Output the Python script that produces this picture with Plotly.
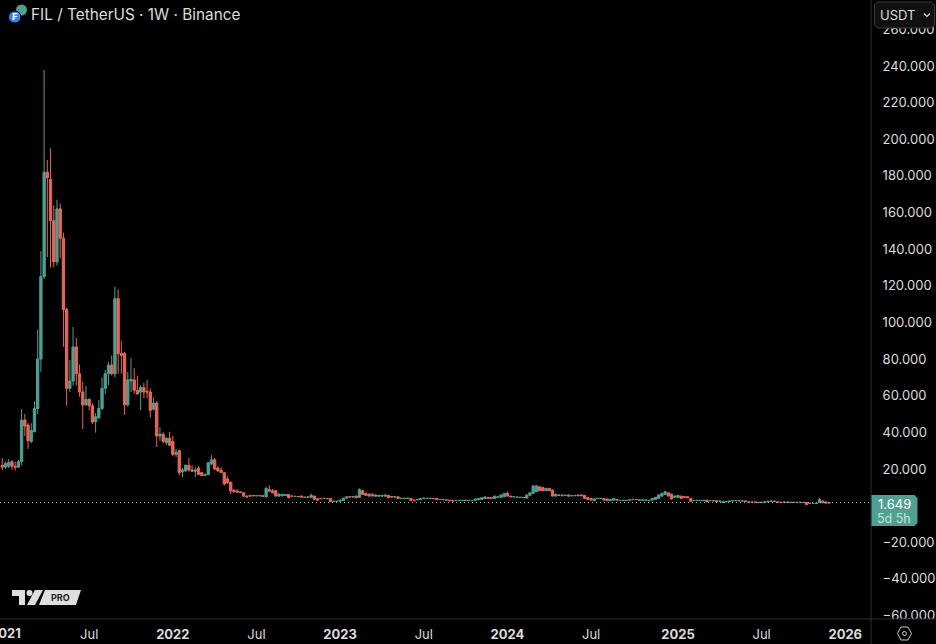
"""
FIL / TetherUS weekly candles, dark TradingView look.
"""

import pandas as pd
import plotly.graph_objects as go


# ============================================================
# 1. Data
# ============================================================

first_week = "2020-12-28"

opens = [
    22, 21, 21.5, 24, 21.5, 21, 24, 46.7, 44, 35,
    40.3, 53, 80, 125, 182, 178, 155.5, 133, 162, 146,
    107, 64, 68, 86.6, 72, 62, 55, 58, 54.5, 45.8,
    48, 53, 64, 72, 76.7, 72, 113, 83, 83, 55,
    68, 68.6, 63, 62, 64.5, 62.4, 62, 52.6, 56, 38,
    39, 34.3, 36.8, 35, 28, 30, 18.5, 19, 22, 19.5,
    18.8, 20.5, 18, 16.5, 17, 22.7, 25, 20.5, 19.3, 18,
    14.5, 12.8, 8.4, 8, 7.5, 7, 5.2, 5.2, 5.5, 5.4,
    5.4, 5.4, 4.8, 8.8, 8.1, 8.1, 5.2, 5.4, 5.6, 6.1,
    5.2, 5.0, 5.0, 5.2, 4.5, 4.7, 4.5, 5.2, 3.7, 3.9,
    3.9, 3.9, 3.9, 2.3, 2.3, 2.5, 2.8, 4.1, 4.8, 4.7,
    5.2, 4.5, 8.1, 6.7, 6.3, 5.2, 5.8, 5.2, 5.2, 5.2,
    5.6, 4.9, 4.7, 4.8, 3.9, 3.9, 3.9, 3.9, 3.0, 3.2,
    3.4, 3.9, 3.9, 3.9, 3.9, 3.9, 3.4, 3.4, 3.0, 3.0,
    2.7, 2.8, 2.8, 2.8, 2.9, 2.8, 2.8, 3.0, 3.2, 3.4,
    3.9, 4.5, 4.3, 3.9, 4.5, 4.5, 4.8, 6.7, 5.2, 4.8,
    4.5, 4.5, 4.5, 4.1, 5.6, 6.7, 7.6, 10.3, 9.9, 8.1,
    9.4, 8.5, 5.2, 5.8, 5.4, 5.6, 5.8, 5.4, 5.4, 5.8,
    5.8, 5.6, 4.3, 3.9, 2.7, 3.9, 3.9, 3.9, 3.6, 2.7,
    3.0, 3.4, 2.8, 2.8, 2.8, 3.0, 3.4, 3.4, 3.0, 3.0,
    3.0, 2.7, 3.0, 3.4, 3.9, 5.2, 6.1, 7.0, 6.3, 4.5,
    4.5, 5.2, 4.9, 4.9, 3.9, 2.8, 2.8, 2.8, 2.8, 3.0,
    2.7, 2.7, 2.7, 2.4, 1.75, 2.1, 2.3, 2.6, 2.7, 2.7,
    2.5, 2.5, 2.0, 1.9, 1.9, 1.8, 1.75, 1.8, 2.1, 2.4,
    2.4, 2.0, 1.8, 1.9, 1.8, 1.8, 1.75, 1.75, 1.75, 1.75,
    1.75, 1.2, 1.2, 1.2, 1.6, 2.5, 2.0, 1.5,
]
highs = [
    26, 24, 25.4, 25, 24, 25, 52.7, 50, 45, 45,
    57, 96, 139, 237.8, 188.6, 195, 164, 167, 165, 149,
    108, 79.5, 97.5, 91.5, 77, 67.6, 65.4, 58.5, 56, 50.5,
    57.6, 70, 74, 78.5, 82, 119.5, 118, 90, 84, 73,
    80.5, 75, 71, 65.8, 67, 68.6, 64, 59, 57, 42.8,
    40, 37.2, 40.3, 38, 31, 30.2, 20.5, 22.5, 26, 22,
    21, 21.6, 18.5, 17.5, 23.8, 27.5, 26, 21.5, 21, 18.3,
    16, 13, 9, 9, 7.8, 7.3, 5.5, 6, 5.8, 5.7,
    5.7, 5.7, 10.3, 11, 9, 8.5, 6.5, 6.3, 6.3, 6.3,
    5.4, 5.3, 5.3, 5.5, 4.8, 4.9, 6.7, 5.4, 3.9, 4.1,
    4.2, 4.1, 4.1, 2.6, 2.5, 3.2, 4.2, 5.0, 5.0, 5.2,
    5.4, 9.4, 8.8, 7, 6.5, 6.9, 6, 5.8, 5.8, 6,
    5.8, 5.1, 5, 5, 4.2, 4.2, 4.3, 4.1, 3.2, 3.5,
    4.0, 4.5, 4.2, 4.2, 4.1, 4.1, 3.6, 3.5, 3.2, 3.1,
    2.8, 3.0, 3.0, 3.0, 3.0, 3.0, 3.0, 3.8, 4.1, 4.5,
    5.2, 4.6, 4.5, 5.4, 5.0, 6.0, 6.9, 7.6, 5.4, 5.2,
    4.9, 4.7, 4.7, 6.0, 7.2, 11.2, 11.2, 10.5, 10.1, 9.6,
    9.6, 8.7, 6.7, 6.0, 6.0, 5.9, 6.0, 5.6, 5.8, 6.0,
    6.0, 5.8, 4.5, 4.1, 3.9, 4.2, 4.2, 4.1, 3.8, 3.6,
    4.1, 3.6, 3.0, 3.1, 3.1, 3.3, 3.6, 3.6, 3.3, 3.2,
    3.3, 3.1, 4.1, 4.7, 6.0, 6.9, 8.0, 7.2, 6.5, 5.4,
    5.8, 5.4, 5.1, 5.1, 4.1, 3.0, 3.1, 3.0, 3.1, 3.2,
    3.0, 2.9, 2.9, 2.6, 2.5, 2.5, 2.7, 2.9, 3.0, 2.9,
    2.7, 2.7, 2.2, 2.1, 2.1, 2.0, 2.0, 2.3, 2.6, 2.7,
    2.6, 2.2, 2.0, 2.1, 2.1, 2.0, 2.0, 2.0, 2.0, 2.0,
    1.9, 1.5, 1.4, 1.5, 4.0, 2.7, 2.2, 1.8,
]
lows = [
    19.4, 20, 20.5, 19.5, 19, 20.5, 22, 38, 31, 34,
    40, 50, 73, 123.7, 135.6, 130, 130, 131, 135, 86.7,
    54.5, 62, 65.5, 65.5, 59.5, 41.8, 54.5, 52, 44.5, 39.8,
    47, 52, 61, 65.8, 71, 70, 72, 72, 49.5, 54,
    62, 61, 60.5, 52, 58.7, 58.7, 48, 52, 32, 35.4,
    34, 33, 32.5, 27, 26.5, 16.6, 15.5, 18.5, 18.5, 18.5,
    15.5, 16.5, 16, 16, 16.5, 22, 19.5, 18.5, 18, 11,
    12, 6.3, 7, 7, 7, 4.6, 4.2, 5, 5, 5.1,
    5.1, 4.7, 4.4, 7.5, 6.6, 4.9, 4.8, 5, 5.2, 4,
    4.9, 4.8, 4.7, 4.6, 4.3, 4.4, 4.3, 3.2, 2.8, 3.6,
    3.7, 3.6, 2, 2.1, 2.1, 2.3, 2.7, 4, 4.5, 4.5,
    4.2, 4.3, 5.9, 5.3, 5, 5.1, 5, 5, 5, 5,
    4.2, 4.5, 4.5, 3.7, 3.7, 3.7, 3.7, 2.6, 2.5, 3.0,
    3.3, 3.7, 3.7, 3.7, 3.6, 3.3, 3.2, 3.1, 2.8, 2.6,
    2.1, 2.6, 2.6, 2.6, 2.6, 2.6, 2.6, 2.8, 3.0, 3.2,
    3.7, 3.7, 3.9, 3.7, 4.3, 4.3, 4.6, 5.0, 4.6, 4.6,
    4.3, 4.3, 4.2, 3.9, 5.4, 6.5, 7.4, 7.9, 7.9, 7.9,
    7.9, 5, 5, 5.4, 5.2, 5.4, 5, 5.2, 5.2, 5.2,
    5.2, 3.7, 3.2, 2.8, 2.5, 3.7, 3.7, 2.8, 2.5, 2.5,
    2.8, 2.8, 2.6, 2.6, 2.6, 2.8, 3.2, 3.1, 2.8, 2.8,
    2.8, 2.5, 2.8, 3.2, 3.7, 5.0, 5.9, 5.0, 3.4, 4.3,
    4.3, 3.7, 4.3, 4.1, 2.1, 2.6, 2.6, 2.6, 2.6, 1.9,
    2.5, 2.5, 1.9, 2.2, 1.6, 2.0, 2.1, 2.4, 2.5, 2.4,
    2.3, 2.2, 1.7, 1.7, 1.6, 1.5, 1.5, 1.6, 1.9, 2.2,
    2.1, 1.7, 1.5, 1.6, 1.6, 1.5, 1.5, 1.5, 1.5, 1.5,
    0.3, 1.0, 1.0, 1.0, 1.4, 1.4, 1.2, 1.3,
]
closes = [
    21, 23, 23.5, 21.5, 21, 24, 46.7, 43.4, 35.4, 41,
    53, 80, 125, 182, 179, 155.5, 133, 162, 146, 107,
    64, 68, 86.6, 72, 62, 55, 58, 54.5, 45.6, 48.5,
    53, 64, 72, 76.7, 72, 113, 83, 82, 55, 68.6,
    69, 63, 61, 64.5, 62, 62, 52, 56, 38, 39,
    35, 36.8, 33, 28, 29, 18, 19.5, 22, 19.5, 18.8,
    19.5, 17, 16.5, 17, 23.4, 25, 20, 19, 18, 11.8,
    12.5, 8, 7.6, 7.4, 7.1, 5.2, 4.8, 5.5, 5.4, 5.4,
    5.5, 5.0, 9.4, 7.9, 7, 5.2, 6.3, 6.1, 6.1, 4.3,
    5.1, 5.1, 4.9, 4.7, 4.6, 4.6, 5.6, 3.4, 3.0, 3.8,
    4.0, 3.8, 2.1, 2.4, 2.4, 3.0, 4.1, 4.8, 4.7, 5.0,
    4.3, 8.8, 6.1, 5.6, 5.2, 6.1, 5.2, 5.6, 5.6, 5.8,
    4.3, 4.7, 4.8, 3.8, 4.0, 4.0, 4.1, 2.7, 2.7, 3.4,
    3.9, 4.0, 4.0, 4.0, 3.8, 3.4, 3.3, 3.2, 3.0, 2.7,
    2.6, 2.9, 2.8, 2.9, 2.8, 2.9, 2.8, 3.6, 3.9, 4.3,
    4.7, 3.9, 4.1, 5.2, 4.8, 5.8, 6.7, 5.2, 4.8, 5.0,
    4.7, 4.5, 4.4, 5.8, 7.0, 10.7, 10.8, 8.1, 8.1, 9.4,
    8.1, 5.2, 6.1, 5.6, 5.8, 5.6, 5.2, 5.4, 5.6, 5.4,
    5.4, 3.9, 3.4, 3.0, 3.7, 4.0, 4.0, 3.0, 2.7, 3.4,
    3.9, 3.0, 2.8, 2.9, 2.9, 3.1, 3.4, 3.3, 3.1, 3.0,
    3.1, 2.9, 3.9, 4.5, 5.8, 6.7, 7.6, 5.2, 3.6, 5.2,
    5.6, 3.9, 4.5, 4.3, 2.3, 2.8, 2.9, 2.8, 2.9, 2.1,
    2.8, 2.7, 2.1, 2.4, 2.3, 2.3, 2.5, 2.7, 2.8, 2.6,
    2.5, 2.4, 1.9, 1.9, 1.8, 1.75, 1.8, 2.1, 2.4, 2.5,
    2.3, 1.9, 1.75, 1.8, 1.9, 1.75, 1.8, 1.75, 1.8, 1.7,
    0.5, 1.3, 1.2, 1.3, 3.4, 1.56, 1.4, 1.649,
]

price_ticks = [260, 240, 220, 200, 180, 160, 140, 120, 100, 80, 60, 40, 20, -20, -40, -60]
price_labels = [
    "260.000", "240.000", "220.000", "200.000", "180.000", "160.000", "140.000", "120.000",
    "100.000", "80.000", "60.000", "40.000", "20.000", "−20.000", "−40.000", "−60.000",
]
time_ticks = [
    "2021-07-05", "2022-01-03", "2022-07-04", "2023-01-02", "2023-07-03",
    "2024-01-01", "2024-07-01", "2025-01-06", "2025-07-07", "2026-01-05",
]
time_labels = [
    "Jul", "<b>2022</b>", "Jul", "<b>2023</b>", "Jul",
    "<b>2024</b>", "Jul", "<b>2025</b>", "Jul", "<b>2026</b>",
]

last_price = 1.649

if not (len(opens) == len(highs) == len(lows) == len(closes)):
    raise ValueError(f"{len(opens)} {len(highs)} {len(lows)} {len(closes)}")

candles = pd.DataFrame(
    {
        "week": pd.date_range(first_week, periods=len(closes), freq="7D"),
        "open": opens,
        "high": highs,
        "low": lows,
        "close": closes,
    }
)
candles["top"] = candles[["open", "close"]].max(axis=1)
candles["bottom"] = candles[["open", "close"]].min(axis=1)


# ============================================================
# 2. Page geometry
# ============================================================

WIDTH = 936
HEIGHT = 644
PLOT_R = 871.5  # right edge of the plot area
PLOT_B = 619  # bottom edge of the plot area

GREEN = "#4f9f92"
RED = "#e2685a"
TEXT = "#dcdcdc"
EDGE = "#303030"
FONT = "Inter"

BODY_WIDTH_MS = 5 * 24 * 3600 * 1000  # go.Candlestick has no width setting, go.Box does


def px(x):
    return x / PLOT_R


def py(y):
    return (PLOT_B - y) / PLOT_B


def path(points):
    return "M " + " L ".join(f"{px(x):.5f},{py(y):.5f}" for x, y in points) + " Z"


def paper_shape(**kwargs):
    return dict(xref="paper", yref="paper", layer="above", **kwargs)


def box(x0, y0, x1, y1, fill, line=None):
    return paper_shape(
        type="rect", x0=px(x0), y0=py(y0), x1=px(x1), y1=py(y1),
        fillcolor=fill, line=dict(color=line or fill, width=1),
    )


def label(x, y, text, size, color=TEXT, anchor="left"):
    return dict(
        xref="paper", yref="paper", x=px(x), y=py(y), text=text, showarrow=False,
        xanchor=anchor, yanchor="middle", align=anchor,
        font=dict(family=FONT, size=size, color=color),
    )


def candle_trace(rows, color):
    return go.Box(
        x=rows["week"],
        lowerfence=rows["low"],
        q1=rows["bottom"],
        median=rows["bottom"],
        q3=rows["top"],
        upperfence=rows["high"],
        width=BODY_WIDTH_MS,
        whiskerwidth=0,
        boxpoints=False,
        fillcolor=color,
        line=dict(color=color, width=1),
        showlegend=False,
    )


# ============================================================
# 3. Figure
# ============================================================

fig = go.Figure()

fig.add_trace(candle_trace(candles[candles["close"] >= candles["open"]], GREEN))
fig.add_trace(candle_trace(candles[candles["close"] < candles["open"]], RED))

shapes = [
    # last price line
    dict(
        type="line", xref="paper", yref="y", x0=0, x1=1, y0=last_price, y1=last_price,
        line=dict(color="#9cc4bc", width=1, dash="1px,3px"),
    ),
    # hide the price labels under the time scale
    box(PLOT_R + 1, PLOT_B + 0.5, WIDTH, HEIGHT, "#000000"),
    paper_shape(type="line", x0=0, x1=px(WIDTH), y0=0, y1=0, line=dict(color=EDGE, width=1)),
    paper_shape(type="line", x0=1, x1=1, y0=py(0), y1=py(HEIGHT), line=dict(color=EDGE, width=1)),
    # currency button
    paper_shape(
        type="path",
        path=path([(878, 2), (932, 2), (935, 5), (935, 25), (932, 28), (878, 28), (875, 25), (875, 5)]),
        fillcolor="#101010", line=dict(color="#3c3c3c", width=1),
    ),
    paper_shape(
        type="path",
        path=f"M {px(924.5):.5f},{py(13.5):.5f} L {px(927.5):.5f},{py(16.5):.5f} L {px(930.5):.5f},{py(13.5):.5f}",
        line=dict(color=TEXT, width=1.2),
    ),
    # price tag
    paper_shape(
        type="path",
        path=path([(872, 495), (915, 495), (918, 498), (918, 523), (915, 526), (872, 526)]),
        fillcolor=GREEN, line=dict(color=GREEN, width=0),
    ),
    # symbol icons
    paper_shape(
        type="circle", x0=px(16), x1=px(27), y0=py(4.5), y1=py(15.5),
        fillcolor="#4f9f92", line=dict(color="#000000", width=0),
    ),
    paper_shape(
        type="circle", x0=px(8.5), x1=px(21), y0=py(11), y1=py(23),
        fillcolor="#3b82f0", line=dict(color="#000000", width=1),
    ),
    # settings icon
    paper_shape(
        type="path",
        path=path([(898, 633.5), (901.5, 627), (908.5, 627), (912, 633.5), (908.5, 640), (901.5, 640)]),
        line=dict(color="#c8c8c8", width=1),
    ),
    paper_shape(
        type="circle", x0=px(903), x1=px(907), y0=py(631.5), y1=py(635.5),
        line=dict(color="#c8c8c8", width=1),
    ),
    # TradingView badge
    paper_shape(
        type="path",
        path=path([(12, 590), (25, 590), (25, 605), (19, 605), (19, 596), (12, 596)]),
        fillcolor="#dedede", line=dict(width=0),
    ),
    paper_shape(
        type="circle", x0=px(26.5), x1=px(32.5), y0=py(590), y1=py(596),
        fillcolor="#dedede", line=dict(width=0),
    ),
    paper_shape(
        type="path",
        path=path([(35, 590), (43, 590), (35, 605), (27, 605)]),
        fillcolor="#dedede", line=dict(width=0),
    ),
    paper_shape(
        type="path",
        path=path([(45, 590), (81, 590), (76, 605), (39, 605)]),
        fillcolor="#dedede", line=dict(width=0),
    ),
]

annotations = [
    label(29.5, 14, "FIL / TetherUS · 1W · Binance", 15.35),
    label(879, 15, "USDT", 13),
    label(895, 504, "1.649", 13, "#ffffff", "center"),
    label(895, 518, "5d 5h", 12.5, "#c4e3dd", "center"),
    label(61, 597.5, "<b>PRO</b>", 9, "#1c1c1c", "center"),
    label(14.5, 17, "<b>₣</b>", 9, "#ffffff", "center"),
    # first year sits half off the page, the axis would drop it
    label(23, 633, "<b>2021</b>", 13, TEXT, "right"),
]

fig.update_layout(
    width=WIDTH,
    height=HEIGHT,
    margin=dict(l=0, r=WIDTH - PLOT_R, t=0, b=HEIGHT - PLOT_B, pad=0),
    paper_bgcolor="#000000",
    plot_bgcolor="#000000",
    boxmode="overlay",
    showlegend=False,
    shapes=shapes,
    annotations=annotations,
    font=dict(family=FONT, color=TEXT),
    xaxis=dict(
        type="date",
        range=["2020-12-23", "2026-03-02"],
        tickmode="array",
        tickvals=time_ticks,
        ticktext=time_labels,
        tickfont=dict(family=FONT, size=13, color=TEXT),
        ticks="outside",
        ticklen=3,
        tickcolor="rgba(0,0,0,0)",
        showgrid=False,
        zeroline=False,
        showline=False,
    ),
    yaxis=dict(
        side="right",
        range=[-61.9, 276],
        tickmode="array",
        tickvals=price_ticks,
        ticktext=price_labels,
        tickfont=dict(family=FONT, size=13, color=TEXT),
        ticks="outside",
        ticklen=8,
        tickcolor="rgba(0,0,0,0)",
        showgrid=False,
        zeroline=False,
        showline=False,
    ),
)

# the page's default body margin would push the chart 8px in
fig.write_html(
    "out.html",
    config=dict(displayModeBar=False),
    post_script="document.body.style.margin = '0';",
)
